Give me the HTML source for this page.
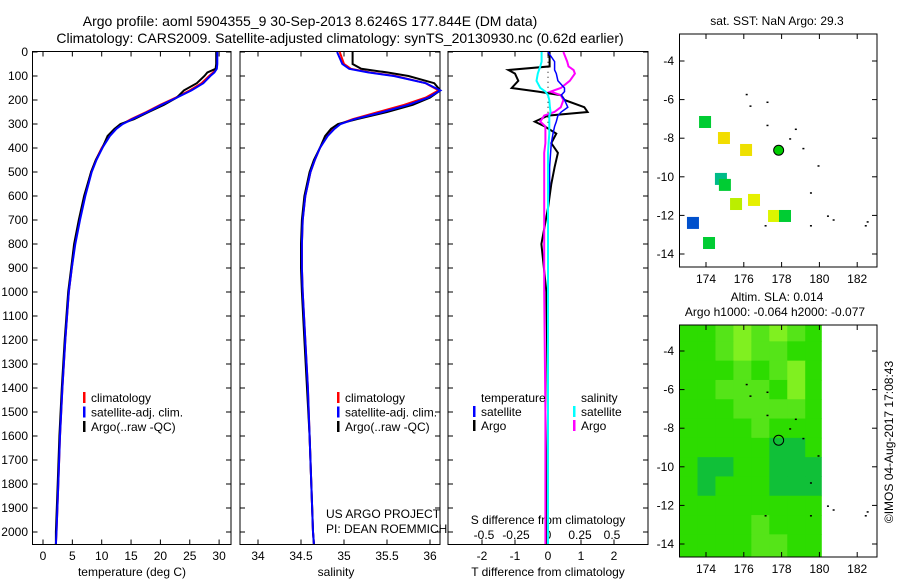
<!DOCTYPE html>
<html><head><meta charset="utf-8"><style>
body{margin:0;background:#fff;}
svg{display:block;font-family:"Liberation Sans",sans-serif;}
</style></head><body>
<svg id="c" width="900" height="580" xmlns="http://www.w3.org/2000/svg"></svg>
<script>
// ---- data ----
const depthT = [0,50,70,85,100,130,160,190,220,250,280,300,320,350,400,450,500,600,700,800,900,1000,1200,1400,1600,1800,2000,2050];
const tempClim = [29.6,29.6,29.5,29.0,28.3,27.0,25.0,22.6,20.0,17.6,15.0,13.5,12.4,11.3,10.0,9.0,8.2,7.1,6.2,5.4,4.9,4.4,3.8,3.3,2.9,2.6,2.3,2.2];
const tempSat  = [29.7,29.7,29.6,29.2,28.5,27.3,25.3,22.8,20.2,17.8,15.2,13.6,12.5,11.4,10.1,9.1,8.3,7.2,6.3,5.5,4.9,4.4,3.8,3.3,2.9,2.6,2.3,2.2];
const tempArgo = [29.5,29.5,29.4,28.0,27.5,26.2,24.0,22.8,20.6,18.0,15.5,13.2,12.2,11.0,10.1,9.0,8.2,7.0,6.1,5.3,4.8,4.3,3.7,3.2,2.8,2.5,2.2,2.2];
const salClim = [34.95,35.0,35.08,35.3,35.6,35.95,36.1,35.95,35.7,35.4,35.1,34.95,34.88,34.8,34.72,34.66,34.61,34.55,34.52,34.51,34.51,34.52,34.55,34.58,34.6,34.62,34.64,34.65];
const salSat  = [34.92,34.98,35.06,35.28,35.58,35.95,36.12,35.98,35.75,35.45,35.12,34.96,34.89,34.81,34.72,34.66,34.61,34.55,34.52,34.51,34.51,34.52,34.55,34.58,34.6,34.62,34.64,34.65];
const salArgo = [35.1,35.1,35.2,35.5,35.75,36.05,36.12,36.0,35.8,35.5,35.15,34.93,34.85,34.78,34.72,34.65,34.6,34.54,34.51,34.5,34.5,34.51,34.54,34.57,34.6,34.62,34.64,34.65];
const depthD = [0,40,60,75,90,120,150,165,180,200,230,250,265,290,310,340,380,420,480,550,650,800,1000,1500,2000,2050];
const tDiffArgo = [0.05,0.05,0.05,-1.2,-1.0,-0.9,-1.1,-0.3,0.4,0.5,1.1,1.2,0.0,-0.4,-0.1,0.25,0.1,0.3,0.2,0.1,0.0,-0.2,-0.05,0.0,-0.05,-0.05];
const tDiffSat  = [0.0,0.2,0.2,0.2,0.25,0.3,0.5,0.5,0.4,0.5,0.6,0.4,0.3,0.25,0.2,0.15,0.1,0.08,0.05,0.05,0.0,0.0,0.0,0.0,0.0,0.0];
const sDiffSat  = [-0.05,-0.05,-0.06,-0.07,-0.08,-0.09,-0.06,-0.02,0.0,0.01,0.015,0.02,0.01,0.01,0.01,0.01,0.005,0.0,0.0,0.0,0.0,0.0,0.0,0.0,0.0,0.0];
const sDiffArgo = [0.12,0.15,0.16,0.2,0.21,0.17,0.1,0.02,0.1,0.12,0.1,0.05,-0.03,-0.06,-0.02,-0.02,-0.02,-0.03,-0.03,-0.03,-0.03,-0.03,-0.03,-0.02,-0.02,-0.02];
const depthTicks = [0,100,200,300,400,500,600,700,800,900,1000,1100,1200,1300,1400,1500,1600,1700,1800,1900,2000];
const tempTicks = [0,5,10,15,20,25,30];
const salTicks = [34,34.5,35,35.5,36];
const tdTicks = [-2,-1,0,1,2];
const sdTicks = [-0.5,-0.25,0,0.25,0.5];
const sdTickLabels = ['-0.5','-0.25','0','0.25','0.5'];
const lonTicks = [174,176,178,180,182];
const latTicks = [-4,-6,-8,-10,-12,-14];
const sstLon = [173.95,174.95,176.12,174.79,175.0,175.59,176.54,177.6,178.18,173.31,174.16];
const sstLat = [-7.16,-7.99,-8.61,-10.11,-10.42,-11.41,-11.2,-12.03,-12.03,-12.39,-13.43];
const sstColor = ['#00cc33','#f2dd00','#eee000','#00bb88','#00cc33','#bbee00','#e6f000','#ddf500','#00cc33','#0050cc','#00cc33'];
const argoLon = 177.844, argoLat = -8.6246;
const slaLonEdges = [172.6,173.55,174.5,175.45,176.4,177.35,178.3,179.25,180.1];
const slaLatCenters = [-3,-4,-5,-6,-7,-8,-9,-10,-11,-12,-13,-14];
const slaLevels = [
[1,1,2,3,2,3,2,1],
[1,1,2,3,2,2,1,1],
[1,1,1,2,1,2,3,1],
[1,1,2,2,2,1,3,1],
[1,1,1,2,2,2,2,1],
[1,1,1,1,2,1,1,1],
[1,1,1,1,1,0,0,1],
[1,0,0,1,1,0,0,0],
[1,0,1,1,1,0,0,0],
[1,1,1,1,1,1,1,1],
[1,1,1,1,2,1,1,1],
[1,1,1,1,2,2,1,1]];
const slaColors = ['#10c038','#2ddc00','#55e418','#80f020'];
const coastLon = [176.1,176.3,177.2,177.2,178.7,178.4,179.1,179.9,179.5,177.1,179.5,180.4,180.7,182.5,182.4];
const coastLat = [-5.7,-6.3,-6.1,-7.3,-7.5,-8.0,-8.5,-9.4,-10.8,-12.5,-12.5,-12.0,-12.2,-12.3,-12.5];

// ---- helpers ----
const svg = document.getElementById('c');
const NS = 'http://www.w3.org/2000/svg';
function mk(tag, attrs, parent){const e=document.createElementNS(NS,tag);for(const k in attrs)e.setAttribute(k,attrs[k]);(parent||svg).appendChild(e);return e;}
function txt(x,y,s,size,anchor,parent){const t=mk('text',{x:x,y:y,'font-size':size,'text-anchor':anchor||'middle',fill:'#000'},parent);t.textContent=s;return t;}
const yD = d => 52 + d*0.24;
const xT = t => 43 + t*5.87;
const xS = s => 258 + (s-34)*86;
const xTD = v => 548 + v*33;
const xSD = v => 548 + v*128;
function line(xs,ys,color,w,name){
  let p='';for(let i=0;i<xs.length;i++)p+=(i?'L':'M')+xs[i].toFixed(1)+','+ys[i].toFixed(1);
  const e=mk('path',{d:p,fill:'none',stroke:color,'stroke-width':w});
  
  
  return e;
}
function panel(x0,x1,name){
  const r=mk('rect',{x:x0,y:51.5,width:x1-x0,height:493,fill:'none',stroke:'#000','stroke-width':1});
  
  
  depthTicks.forEach(d=>{mk('line',{x1:x0,x2:x0+5,y1:yD(d),y2:yD(d),stroke:'#000'});mk('line',{x1:x1-5,x2:x1,y1:yD(d),y2:yD(d),stroke:'#000'});});
}
function xticks(vals,fx,labels,y,top){
  vals.forEach((v,i)=>{const x=fx(v);mk('line',{x1:x,x2:x,y1:544.5,y2:539.5,stroke:'#000'});if(top!==false)mk('line',{x1:x,x2:x,y1:51.5,y2:56.5,stroke:'#000'});
    const t=txt(x,y,labels?labels[i]:String(v),12);});
}
// titles
txt(310,26,'Argo profile: aoml 5904355_9 30-Sep-2013 8.6246S 177.844E (DM data)',14);
txt(340,43,'Climatology: CARS2009. Satellite-adjusted climatology: synTS_20130930.nc (0.62d earlier)',14);

// panel 1
panel(32.5,231,'temperature-panel');
depthTicks.forEach(d=>{const t=txt(28,yD(d)+4,String(d),12,'end');});
xticks(tempTicks,xT,null,560);
txt(132,576,'temperature (deg C)',12);
line(tempClim.map(xT),depthT.map(yD),'#ff0000',2,'temp-climatology-line');
line(tempArgo.map(xT),depthT.map(yD),'#000',2,'temp-argo-line');
line(tempSat.map(xT),depthT.map(yD),'#0000ff',2,'temp-satellite-line');
function legend3(x,y,name){
  const g=mk('g',{});
  [['#ff0000','climatology'],['#0000ff','satellite-adj. clim.'],['#000','Argo(..raw -QC)']].forEach((a,i)=>{
    mk('rect',{x:x,y:y+i*14.5-5,width:2.5,height:11,fill:a[0]},g);txt(x+8,y+i*14.5+5,a[1],12,'start',g);});
}
legend3(83,397,'temperature-legend');

// panel 2
panel(240,440,'salinity-panel');
xticks(salTicks,xS,null,560);
txt(336,576,'salinity',12);
line(salClim.map(xS),depthT.map(yD),'#ff0000',2,'sal-climatology-line');
line(salArgo.map(xS),depthT.map(yD),'#000',2,'sal-argo-line');
line(salSat.map(xS),depthT.map(yD),'#0000ff',2,'sal-satellite-line');
legend3(337,397,'salinity-legend');
txt(326,518,'US ARGO PROJECT',12,'start');
txt(326,533,'PI: DEAN ROEMMICH',12,'start');

// panel 3
panel(448,648,'difference-panel');
xticks(tdTicks,xTD,null,560);
sdTicks.forEach((v,i)=>{const t=txt(xSD(v),539,sdTickLabels[i],12);});
txt(548,524,'S difference from climatology',12);
txt(548,576,'T difference from climatology',12);
mk('line',{x1:xTD(0),x2:xTD(0),y1:yD(20),y2:yD(300),stroke:'#000','stroke-dasharray':'1,4'});
line(tDiffArgo.map(xTD),depthD.map(yD),'#000',2,'tdiff-argo-line');
line(sDiffArgo.map(xSD),depthD.map(yD),'#ff00ff',2,'sdiff-argo-line');
line(tDiffSat.map(xTD),depthD.map(yD),'#0000ff',1.5,'tdiff-satellite-line');
line(sDiffSat.map(xSD),depthD.map(yD),'#00ffff',2,'sdiff-satellite-line');
(function(){const g=mk('g',{});
 txt(481,402,'temperature',12,'start',g);txt(473,407,'',12,'start',g);
 mk('rect',{x:473,y:406,width:2.5,height:11,fill:'#0000ff'},g);txt(481,416,'satellite',12,'start',g);
 mk('rect',{x:473,y:420,width:2.5,height:11,fill:'#000'},g);txt(481,430,'Argo',12,'start',g);
 txt(581,402,'salinity',12,'start',g);
 mk('rect',{x:573,y:406,width:2.5,height:11,fill:'#00ffff'},g);txt(581,416,'satellite',12,'start',g);
 mk('rect',{x:573,y:420,width:2.5,height:11,fill:'#ff00ff'},g);txt(581,430,'Argo',12,'start',g);})();

// maps
const mx = lon => 706 + (lon-174)*18.9;
const my1 = lat => 61 + (-4-lat)*19.3;
const my2 = lat => 351 + (-4-lat)*19.3;
function mapFrame(y0,y1,fy,name){
  const r=mk('rect',{x:679.5,y:y0,width:197.5,height:y1-y0,fill:'none',stroke:'#000'});
  
  lonTicks.forEach(l=>{const x=mx(l);mk('line',{x1:x,x2:x,y1:y0,y2:y0+5,stroke:'#000'});mk('line',{x1:x,x2:x,y1:y1,y2:y1-5,stroke:'#000'});
    const t=txt(x,y1+16,String(l),12);});
  latTicks.forEach(l=>{const y=fy(l);mk('line',{x1:679.5,x2:684.5,y1:y,y2:y,stroke:'#000'});mk('line',{x1:872,x2:877,y1:y,y2:y,stroke:'#000'});
    const t=txt(674,y+4,String(l),12,'end');});
}
function coast(fy){coastLon.forEach((l,i)=>{mk('rect',{x:mx(l),y:fy(coastLat[i]),width:2,height:1.5,fill:'#000'});});}
// map 1
txt(777,25,'sat. SST: NaN Argo: 29.3',12);
sstLon.forEach((l,i)=>{const r=mk('rect',{x:mx(l)-6,y:my1(sstLat[i])-6,width:12,height:12,fill:sstColor[i]});
  });
coast(my1);
const c1=mk('circle',{cx:mx(argoLon),cy:my1(argoLat),r:5,fill:'#00cc00',stroke:'#000','stroke-width':1});

mapFrame(34,267,my1,'sst-map');
// map 2
txt(777,301,'Altim. SLA: 0.014',12);
txt(775,316,'Argo h1000: -0.064 h2000: -0.077',12);
slaLatCenters.forEach((lat,r)=>{
  const ytop = r===0 ? 325 : my2(lat+0.5);
  const ybot = r===slaLatCenters.length-1 ? 557 : my2(lat-0.5);
  for(let c=0;c<slaLonEdges.length-1;c++){
    const x0=Math.max(680,mx(slaLonEdges[c])), x1=mx(slaLonEdges[c+1]);
    const e=mk('rect',{x:x0,y:ytop,width:x1-x0+0.5,height:ybot-ytop+0.5,fill:slaColors[slaLevels[r][c]]});
    
    
  }
});
coast(my2);
const c2=mk('circle',{cx:mx(argoLon),cy:my2(argoLat),r:5,fill:'none',stroke:'#000','stroke-width':1});

mapFrame(325,557,my2,'sla-map');
const cp=txt(0,0,'©IMOS 04-Aug-2017 17:08:43',12);
cp.setAttribute('transform','translate(893,442) rotate(-90)');

</script>
</body></html>
